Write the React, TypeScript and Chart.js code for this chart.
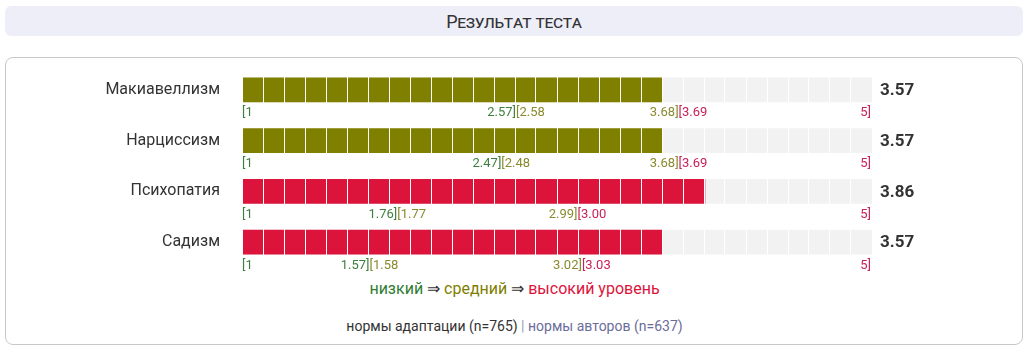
import React, { useEffect, useRef } from 'react';
import { Chart, registerables } from 'chart.js';

Chart.register(...registerables);

const categories = ['Макиавеллизм', 'Нарциссизм', 'Психопатия', 'Садизм'];
const scores = [3.57, 3.57, 3.86, 3.57];
const lowMax = [2.57, 2.47, 1.76, 1.57];
const midMin = [2.58, 2.48, 1.77, 1.58];
const midMax = [3.68, 3.68, 2.99, 3.02];
const highMin = [3.69, 3.69, 3.0, 3.03];
const scaleMin = 1;
const scaleMax = 5;

const trackStart = 0.7;
const cellCount = 30;

const BAR_GREEN = '#2e7d32';
const BAR_OLIVE = '#808000';
const BAR_RED = '#dc143c';
const TXT_GREEN = '#3d7f3d';
const TXT_OLIVE = '#8a8a2e';
const TXT_RED = '#c8205a';
const TRACK = '#f2f2f2';

const barColors = scores.map((s, i) =>
  s >= highMin[i] ? BAR_RED : s >= midMin[i] ? BAR_OLIVE : BAR_GREEN
);

const labelsPlugin = {
  id: 'rangeLabels',
  afterDraw(chart: any) {
    const ctx = chart.ctx;
    const xs = chart.scales.x;
    const ys = chart.scales.y;
    const area = chart.chartArea;
    ctx.save();
    categories.forEach((_, i) => {
      const yc = ys.getPixelForValue(i);
      const yb = yc + 26.5;
      ctx.font = '13px Roboto';
      ctx.textBaseline = 'alphabetic';
      ctx.textAlign = 'left';
      ctx.fillStyle = TXT_GREEN;
      ctx.fillText('[' + scaleMin, area.left, yb);
      const xl = xs.getPixelForValue(lowMax[i]);
      ctx.textAlign = 'right';
      ctx.fillText(lowMax[i].toFixed(2) + ']', xl, yb);
      ctx.textAlign = 'left';
      ctx.fillStyle = TXT_OLIVE;
      ctx.fillText('[' + midMin[i].toFixed(2), xl, yb);
      const xm = xs.getPixelForValue(midMax[i]);
      ctx.textAlign = 'right';
      ctx.fillText(midMax[i].toFixed(2) + ']', xm, yb);
      ctx.textAlign = 'left';
      ctx.fillStyle = TXT_RED;
      ctx.fillText('[' + highMin[i].toFixed(2), xm, yb);
      ctx.textAlign = 'right';
      ctx.fillText(scaleMax + ']', area.right - 1, yb);

      ctx.font = 'bold 17px Roboto';
      ctx.fillStyle = '#333333';
      ctx.textAlign = 'left';
      ctx.textBaseline = 'middle';
      ctx.fillText(scores[i].toFixed(2), area.right + 8, yc + 1);
    });
    ctx.restore();
  },
};

export default function App() {
  const ref = useRef<HTMLCanvasElement>(null);

  useEffect(() => {
    if (!ref.current) return;
    const chart = new Chart(ref.current, {
      type: 'bar',
      data: {
        labels: categories,
        datasets: [
          {
            data: scores,
            backgroundColor: barColors,
            barThickness: 24,
            grouped: false,
            order: 0,
          },
          {
            data: categories.map(() => scaleMax),
            backgroundColor: TRACK,
            barThickness: 24,
            grouped: false,
            order: 1,
          },
        ],
      },
      options: {
        indexAxis: 'y',
        animation: false,
        responsive: false,
        maintainAspectRatio: false,
        layout: { padding: { left: 0, right: 157, top: 64.5, bottom: 83.5 } },
        plugins: { legend: { display: false }, tooltip: { enabled: false } },
        scales: {
          x: {
            type: 'linear',
            min: trackStart,
            max: scaleMax,
            afterBuildTicks: (s: any) => {
              s.ticks = Array.from({ length: cellCount + 1 }, (_, k) => ({
                value: trackStart + (k * (scaleMax - trackStart)) / cellCount,
              }));
            },
            afterFit: (s: any) => {
              s.height = 0;
            },
            ticks: { display: false },
            grid: { color: '#ffffff', lineWidth: 1, z: 1, drawTicks: false },
            border: { display: false },
          },
          y: {
            type: 'category',
            afterFit: (s: any) => {
              s.width = 242;
            },
            grid: { display: false },
            border: { display: false },
            ticks: {
              padding: 14,
              color: '#333333',
              font: { family: 'Roboto', size: 16 },
            },
          },
        },
      },
      plugins: [labelsPlugin],
    });
    return () => chart.destroy();
  }, []);

  return (
    <div
      style={{
        position: 'fixed',
        left: 0,
        top: 0,
        width: 1029,
        height: 351,
        background: '#ffffff',
        fontFamily: 'Roboto, sans-serif',
        overflow: 'hidden',
      }}
    >
      <div
        style={{
          position: 'absolute',
          left: 5,
          top: 6,
          width: 1018,
          height: 30,
          background: '#eeeef8',
          borderRadius: 6,
          display: 'flex',
          alignItems: 'center',
          justifyContent: 'center',
          color: '#333333',
          fontSize: 18,
          fontVariant: 'small-caps',
          letterSpacing: -0.3,
        }}
      >
        Результат теста
      </div>
      <div
        style={{
          position: 'absolute',
          left: 5,
          top: 57,
          width: 1016,
          height: 286,
          border: '1px solid #c8c8c8',
          borderRadius: 8,
        }}
      />
      <div
        style={{
          position: 'absolute',
          left: 0,
          width: 1029,
          top: 278,
          textAlign: 'center',
          fontSize: 16,
          lineHeight: '22px',
          color: '#333333',
        }}
      >
        <span style={{ color: BAR_GREEN }}>низкий</span> ⇒{' '}
        <span style={{ color: BAR_OLIVE }}>средний</span> ⇒{' '}
        <span style={{ color: BAR_RED }}>высокий уровень</span>
      </div>
      <div
        style={{
          position: 'absolute',
          left: 0,
          width: 1029,
          top: 317,
          textAlign: 'center',
          fontSize: 14,
          lineHeight: '18px',
          color: '#333333',
        }}
      >
        нормы адаптации (n=765) <span style={{ color: '#9a9ab8' }}>|</span>{' '}
        <span style={{ color: '#6c6c9a' }}>нормы авторов (n=637)</span>
      </div>
      <canvas
        ref={ref}
        width={1029}
        height={351}
        style={{ position: 'absolute', left: 0, top: 0, pointerEvents: 'none' }}
      />
    </div>
  );
}
